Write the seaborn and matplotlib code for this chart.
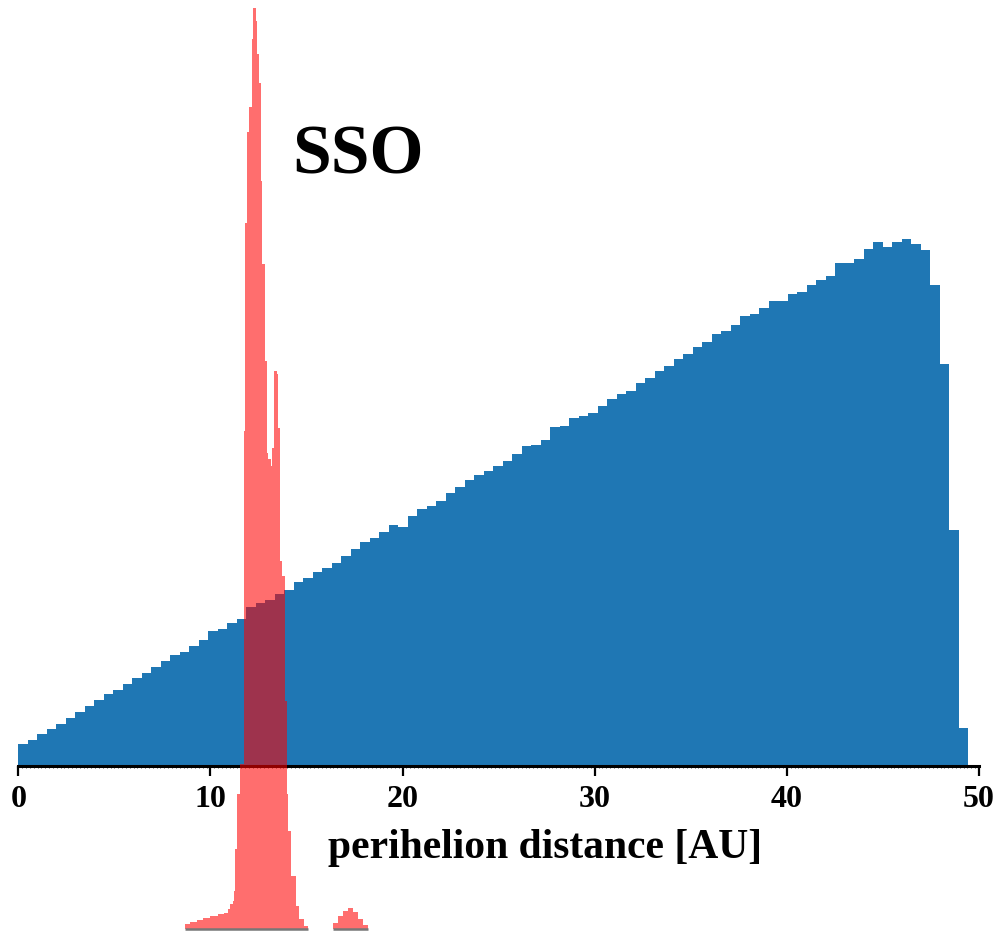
import numpy as np
import pandas as pd
import matplotlib
matplotlib.use("Agg")
import matplotlib.pyplot as plt
import seaborn as sns

# ---------------- data ----------------
# blue histogram: 100 equal bins of perihelion distance [AU]
blue_range = (0.0, 49.45)
blue_counts = [22, 26, 32, 37, 42, 48, 54, 60, 66, 72, 76, 82, 88, 93, 99, 105, 111, 114, 120, 126,
               135, 137, 143, 147,
               159, 163, 166, 172, 176, 184, 188, 194, 198, 203, 210, 217, 224, 228, 234, 241, 239,
               250, 257, 260, 265, 273, 279, 286, 291, 295, 300, 305, 312,
               320, 321, 326, 339, 340, 348, 350, 353, 360, 367, 372, 375, 383, 388, 395, 400, 407,
               412, 419, 424, 432, 435, 441, 450, 452,
               458, 465, 465, 472, 474, 481, 486, 490, 503, 503, 507, 517, 524, 519, 524, 527, 522,
               516, 481, 402, 236, 38]

# red (SSO) histogram: bin edges [AU] and counts
red_edges = [8.70, 8.96, 9.32, 9.63, 10.00, 10.37, 10.68, 10.89, 11.04, 11.15, 11.22, 11.30, 11.39,
             11.53, 11.74, 11.81, 11.91, 12.03, 12.14, 12.23, 12.35, 12.44, 12.52, 12.61, 12.70,
             12.82, 12.92, 13.01, 13.13, 13.22, 13.32, 13.44, 13.53, 13.62, 13.74, 13.86, 13.96,
             14.03, 14.17, 14.43, 14.59, 14.85, 15.06, 16.36, 16.62, 16.88, 17.15, 17.41, 17.67,
             17.93, 18.19]
red_counts = [5, 7, 9, 11, 13, 15, 16, 20, 25, 28,
              38, 80, 135, 165, 498, 706, 797, 822, 890, 921,
              908, 875, 846, 748, 665, 568, 476, 470, 463, 481,
              558, 555, 501, 368, 353, 228, 135, 98, 53, 23,
              10, 3, 0, 6, 13, 18, 21, 17, 10, 4]

x_ticks = [0, 10, 20, 30, 40, 50]
x_label = "perihelion distance [AU]"
panel_label = "SSO"

# ---------------- style ----------------
sns.set_style("white")
plt.rcParams["font.family"] = ["Liberation Serif", "DejaVu Serif"]
plt.rcParams["font.weight"] = "bold"

W, H = 1002, 931
fig = plt.figure(figsize=(W / 100, H / 100), dpi=100)

x0, x1 = 18.3, 979.0
base_main, top_px = 766.0, 8.0

# main (blue) axes
ax = fig.add_axes([x0 / W, (H - base_main) / H, (x1 - x0) / W, (base_main - top_px) / H])
blue_edges = np.linspace(blue_range[0], blue_range[1], len(blue_counts) + 1)
blue_df = pd.DataFrame({"q": (blue_edges[:-1] + blue_edges[1:]) / 2,
                        "n": np.asarray(blue_counts, dtype=float)})
sns.histplot(data=blue_df, x="q", weights="n", bins=list(blue_edges), color="#1f77b4",
             alpha=1.0, linewidth=0, ax=ax)
ax.set_xlim(0, 50)
ax.set_ylim(0, base_main - top_px)
for s in ["top", "right", "left"]:
    ax.spines[s].set_visible(False)
ax.spines["bottom"].set_linewidth(2.2)
ax.spines["bottom"].set_color("black")
ax.set_yticks([])
ax.set_ylabel("")
ax.set_xticks(x_ticks)
ax.set_xticks(np.arange(0, 50.01, 0.2), minor=True)
ax.tick_params(axis="x", which="major", direction="out", length=7, width=1.6,
               labelsize=23, pad=6.5, colors="black", bottom=True)
ax.tick_params(axis="x", which="minor", direction="out", length=1.5, width=0.5,
               colors="black", bottom=True)
for lab in ax.get_xticklabels():
    lab.set_fontweight("bold")
ax.set_xlabel(x_label, fontsize=30, fontweight="bold", color="black")
ax.xaxis.set_label_coords((545 - x0) / (x1 - x0), -(829 - base_main) / (base_main - top_px))
ax.patch.set_alpha(0)

# red (SSO) axes overlaid on top
base_red = 928.5
axr = fig.add_axes([x0 / W, (H - base_red) / H, (x1 - x0) / W, (base_red - top_px) / H])
red_df = pd.DataFrame({"q": (np.array(red_edges[:-1]) + np.array(red_edges[1:])) / 2,
                       "n": np.asarray(red_counts, dtype=float)})
sns.histplot(data=red_df, x="q", weights="n", bins=list(red_edges), color="red",
             element="step", fill=True, alpha=0.57, linewidth=0, ax=axr)
axr.set_xlim(0, 50)
axr.set_ylim(0, base_red - top_px)
axr.axis("off")

# grey baseline under each contiguous run of non-empty red bins
runs = []
start = None
for i, c in enumerate(red_counts):
    if c > 0 and start is None:
        start = i
    if c == 0 and start is not None:
        runs.append((start, i - 1))
        start = None
if start is not None:
    runs.append((start, len(red_counts) - 1))
for a, b in runs:
    axr.hlines(0, red_edges[a], red_edges[b + 1], color="#777777", lw=1.8, clip_on=False)

fig.text(292 / W, 1 - 173 / H, panel_label, fontsize=50, fontweight="bold",
         ha="left", va="baseline", color="black")

fig.savefig("out.png", dpi=100)
